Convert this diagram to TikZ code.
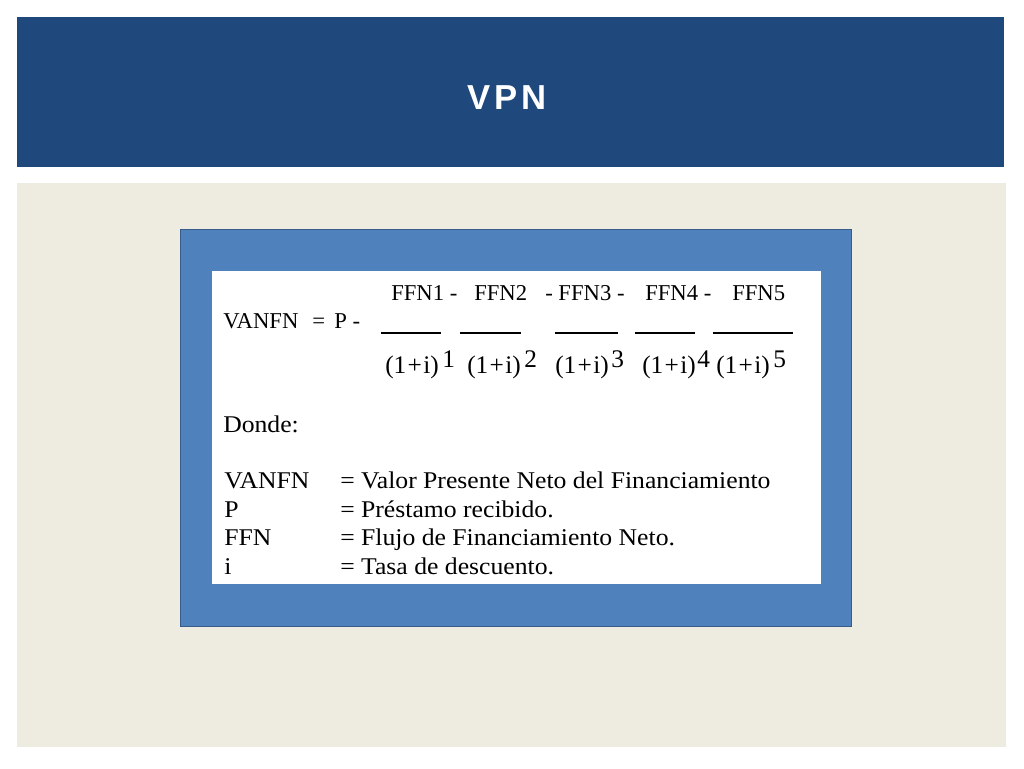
\documentclass[tikz,border=0pt]{standalone}
\usepackage{fontspec}
\setmainfont{Liberation Serif}
\newfontfamily\titlefont[LetterSpace=12]{Liberation Sans}
\newfontfamily\defnfont[FakeStretch=1.07]{Liberation Serif}
\usepackage{tikz}
\definecolor{headblue}{RGB}{31,73,125}
\definecolor{bodytan}{RGB}{238,236,225}
\definecolor{boxblue}{RGB}{79,129,189}
\definecolor{boxedge}{RGB}{56,93,138}

\begin{document}
\begin{tikzpicture}
            [x=0.75pt,y=-0.75pt,every node/.style={inner sep=0pt,anchor=base west},
             title/.style={text=white,font=\titlefont\bfseries\fontsize{26}{28}\selectfont},
             formula/.style={font=\rmfamily\fontsize{17}{20}\selectfont},
             power/.style={font=\rmfamily\fontsize{19}{22}\selectfont},
             defn/.style={font=\defnfont\fontsize{18}{21}\selectfont}]
            \useasboundingbox (0,0) rectangle (1024,768);
            % slide
            \fill[white] (0,0) rectangle (1024,768);
            \fill[headblue] (17,17) rectangle (1004,167);
            \fill[bodytan] (17,183) rectangle (1006,747);
            \draw[boxedge,fill=boxblue,line width=1pt] (180.5,229.5) rectangle (851.5,626.5);
            \fill[white] (212,271) rectangle (821,584);
            \node[title] (T) at (467,109) {VPN};

            % formula
            \node[formula] (L1) at (223,328) {VANFN};
            \node[formula] (L2) at (312,328) {=};
            \node[formula] (L3) at (334,328) {P -};
            \node[formula] (N1) at (391,300) {FFN1 -};
            \node[formula] (N2) at (474,300) {FFN2};
            \node[formula] (N3) at (545,300) {- FFN3 -};
            \node[formula] (N4) at (645,300) {FFN4 -};
            \node[formula] (N5) at (732,300) {FFN5};
            \draw[line width=1.5pt] (381,333) -- (441,333);
            \draw[line width=1.5pt] (460,333) -- (521,333);
            \draw[line width=1.5pt] (555,333) -- (618,333);
            \draw[line width=1.5pt] (635,333) -- (695,333);
            \draw[line width=1.5pt] (713,333) -- (793,333);
            \node[power] (D1) at (385,373) {(1\kern1pt+\kern1pt i)};
            \node[power] (D2) at (467,373) {(1\kern1pt+\kern1pt i)};
            \node[power] (D3) at (555,373) {(1\kern1pt+\kern1pt i)};
            \node[power] (D4) at (642,373) {(1\kern1pt+\kern1pt i)};
            \node[power] (D5) at (716,373) {(1\kern1pt+\kern1pt i)};
            \node[power] (S1) at (442,367) {1};
            \node[power] (S2) at (524,367) {2};
            \node[power] (S3) at (611,367) {3};
            \node[power] (S4) at (697,367) {4};
            \node[power] (S5) at (773,367) {5};

            % legend
            \node[defn] (W) at (223,432) {Donde:};
            \node[defn] (K1) at (224,488) {VANFN};
            \node[defn] (K2) at (224,517) {P};
            \node[defn] (K3) at (224,545) {FFN};
            \node[defn] (K4) at (224,574) {i};
            \node[defn] (V1) at (340,488) {= Valor Presente Neto del Financiamiento};
            \node[defn] (V2) at (340,517) {= Préstamo recibido.};
            \node[defn] (V3) at (340,545) {= Flujo de Financiamiento Neto.};
            \node[defn] (V4) at (340,574) {= Tasa de descuento.};
        \end{tikzpicture}
\end{document}
